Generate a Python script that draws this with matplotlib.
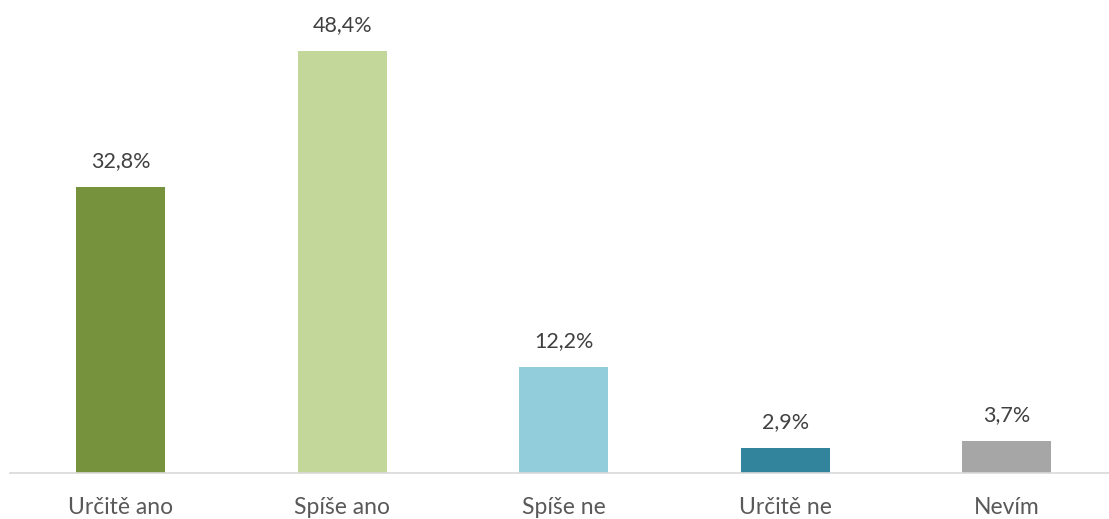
import matplotlib
matplotlib.use("Agg")
import matplotlib.pyplot as plt

categories = ["Určitě ano", "Spíše ano", "Spíše ne", "Určitě ne", "Nevím"]
values = [32.8, 48.4, 12.2, 2.9, 3.7]
colors = ["#76923C", "#C4D79B", "#92CDDC", "#31849B", "#A6A6A6"]

plt.rcParams['font.family'] = ['Lato', 'DejaVu Sans']

W, H = 1109, 519
fig = plt.figure(figsize=(W / 100, H / 100), dpi=100)
ax = fig.add_axes([10 / W, 46 / H, 1099 / W, 473 / H])

x = range(len(categories))
bars = ax.bar(x, values, width=0.402, color=colors)

ax.set_xlim(-0.5, -0.5 + 1099 / 221.5)
ax.set_ylim(0, 473 / 8.72)

for b, v in zip(bars, values):
    ax.annotate(f"{v:.1f}%".replace(".", ","),
                (b.get_x() + b.get_width() / 2, v),
                xytext=(0, 11.5), textcoords="offset points",
                ha="center", va="bottom", fontsize=15.5, color="#404040")

ax.set_xticks(list(x))
ax.set_xticklabels(categories, fontsize=16.5, color="#595959")
ax.tick_params(axis="x", length=0, pad=17)
ax.set_yticks([])
for s in ["top", "right", "left"]:
    ax.spines[s].set_visible(False)
ax.spines["bottom"].set_color("#D9D9D9")
ax.spines["bottom"].set_linewidth(1.2)

fig.savefig("out.png", dpi=100)
